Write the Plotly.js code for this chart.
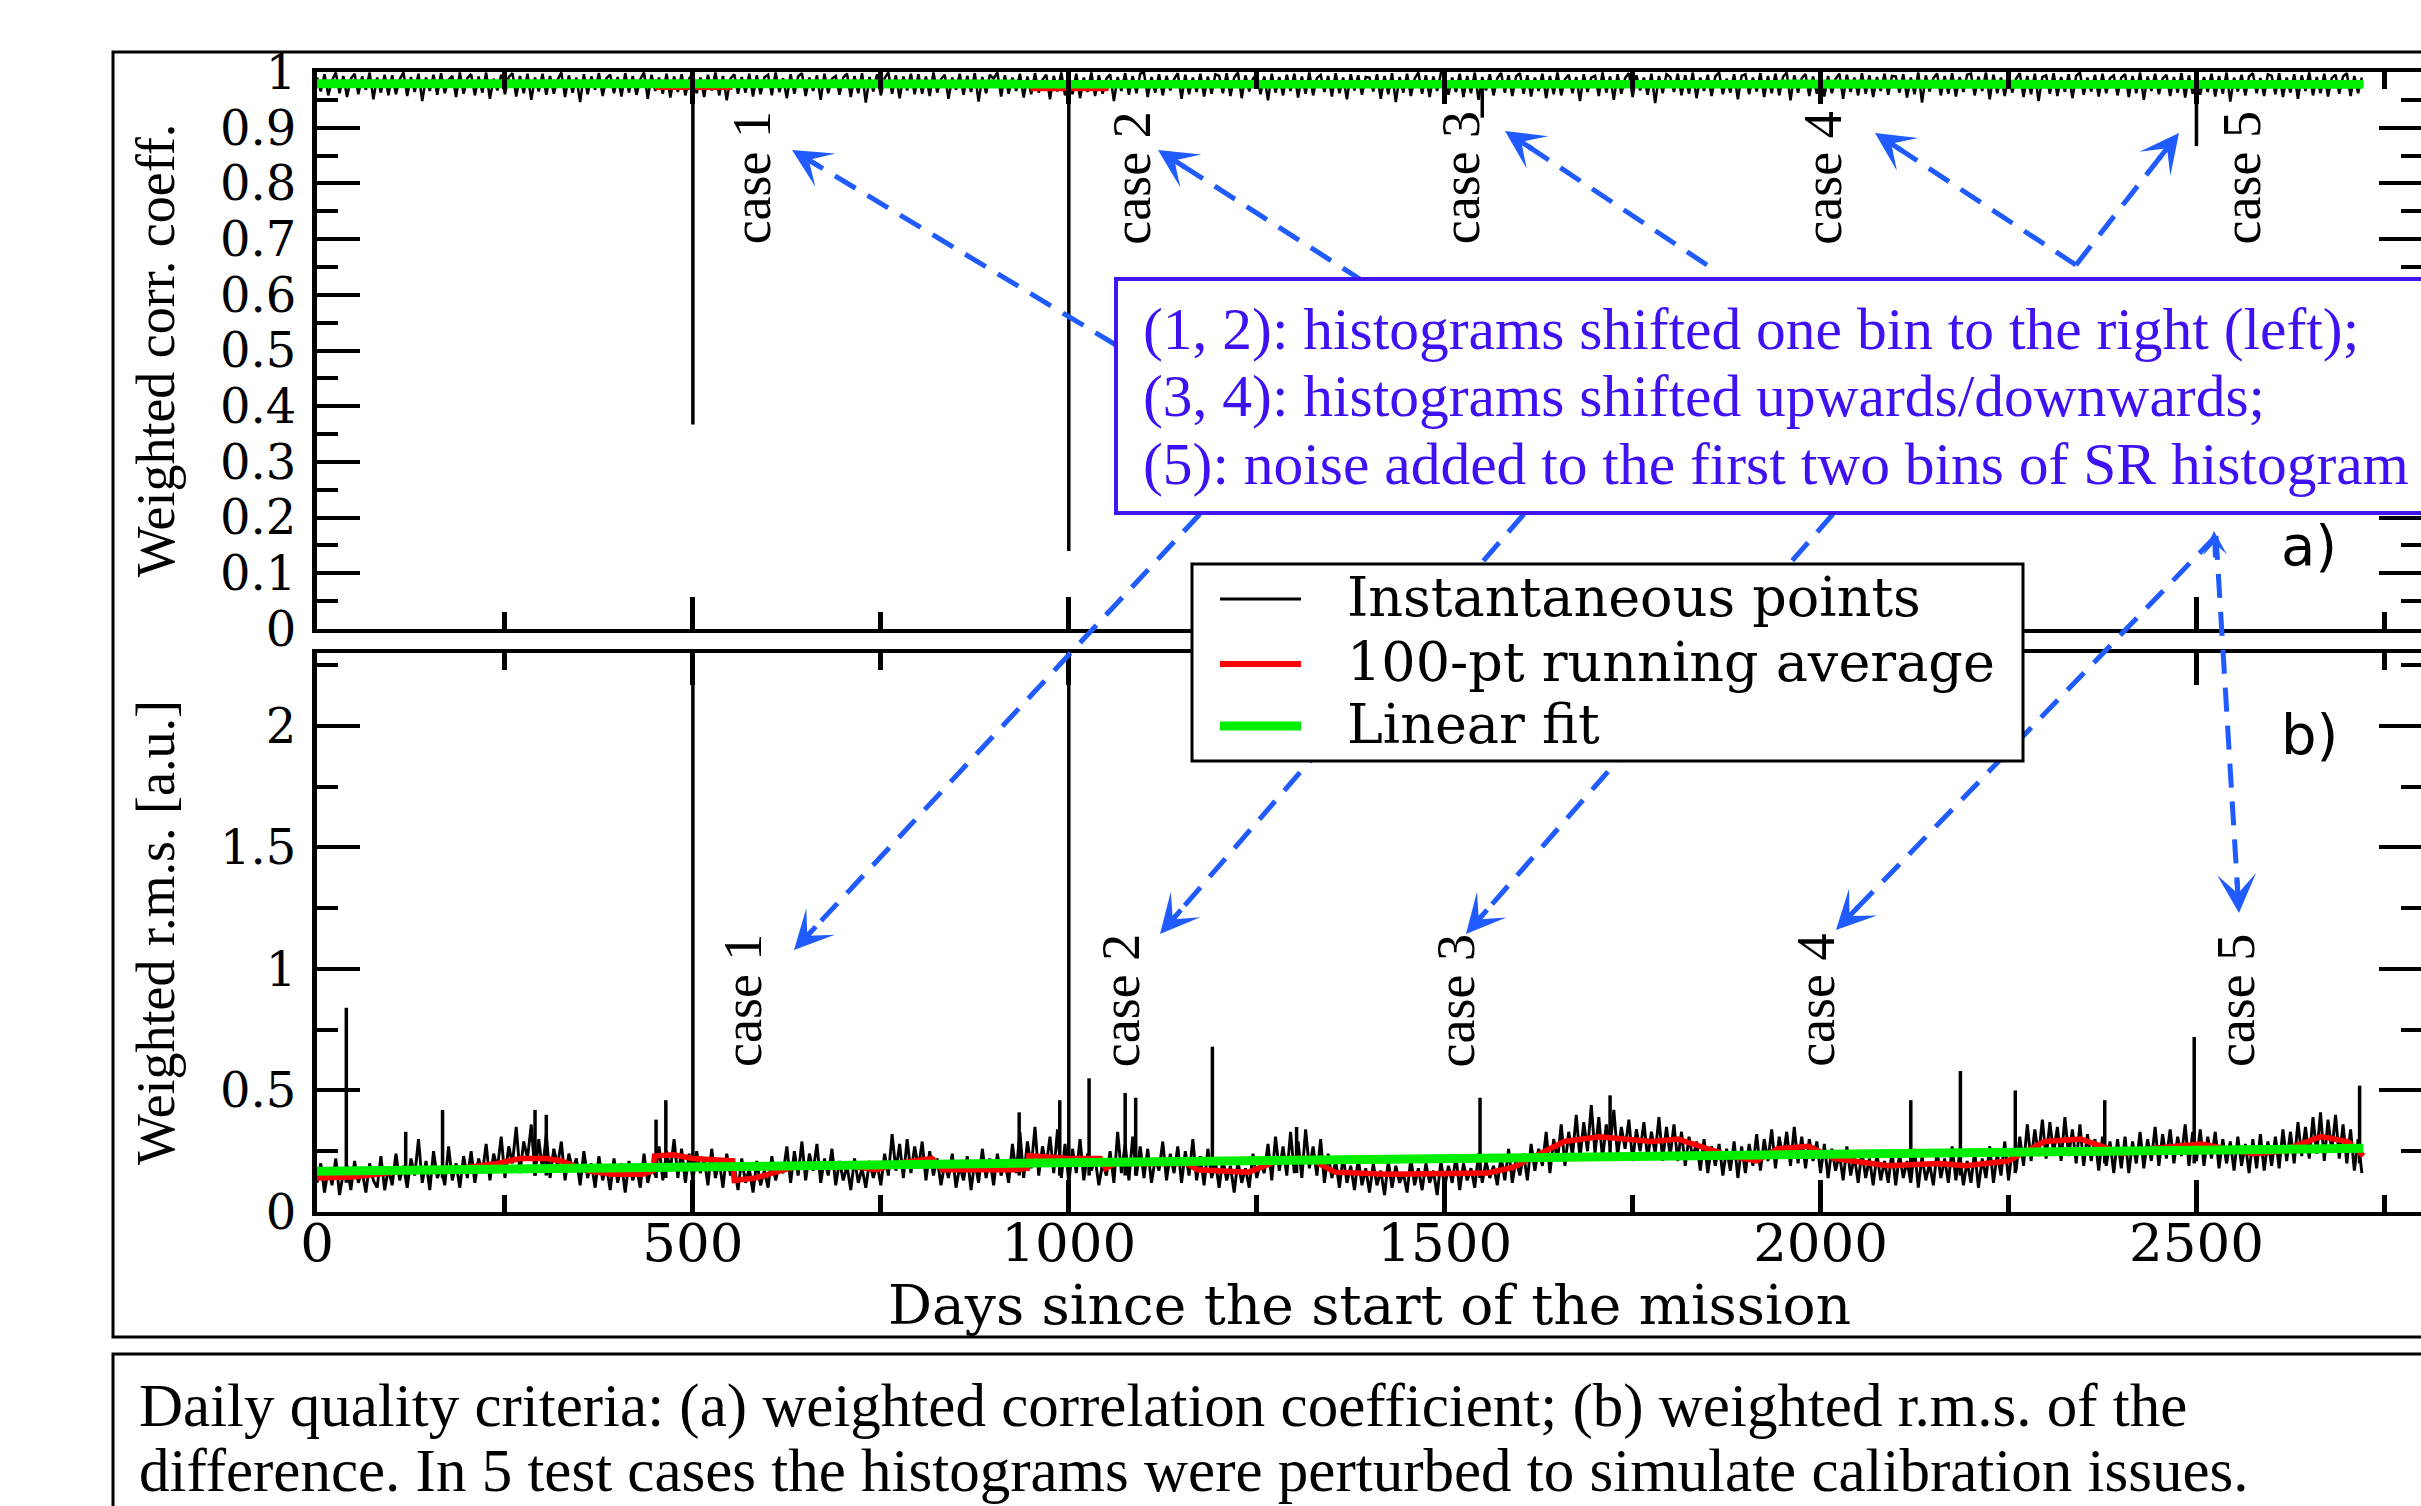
<!DOCTYPE html>
<html><head><meta charset="utf-8">
<script src="https://cdn.plot.ly/plotly-3.0.1.min.js"></script>
<style>html,body{margin:0;padding:0;overflow:hidden;background:#fff;} #chart{width:2440px;height:1506px;}</style>
</head><body><div id="chart"></div>
<script>
// ---------------- DATA ----------------
const dayStep = 5; // daily series shown as 5-day samples, starting at day 0

const corrVals = [
0.99,0.965,0.996,0.958,0.985,0.999,0.962,0.993,0.955,0.988,0.997,0.96,0.992,0.968,0.999,0.951,0.99,0.963,0.995,0.958,
0.994,0.96,0.987,0.999,0.957,0.991,0.964,0.997,0.948,0.99,0.966,0.995,0.959,0.998,0.962,0.986,0.993,0.955,0.999,0.961,
0.989,0.996,0.958,0.992,0.963,0.999,0.952,0.988,0.967,0.995,0.96,0.991,0.998,0.956,0.993,0.962,0.997,0.95,0.99,0.965,
0.997,0.959,0.993,0.961,0.986,0.999,0.955,0.994,0.963,0.99,0.946,0.996,0.96,0.992,0.968,0.998,0.957,0.989,0.995,0.962,
0.991,0.956,0.998,0.963,0.993,0.959,0.987,0.999,0.952,0.995,0.966,0.99,0.961,0.997,0.954,0.992,0.964,0.996,0.958,0.988,
0.998,0.962,0.99,0.955,0.995,0.967,0.999,0.958,0.993,0.949,0.988,0.996,0.961,0.991,0.963,0.997,0.956,0.994,0.96,0.99,
0.995,0.958,0.999,0.964,0.989,0.953,0.996,0.961,0.992,0.998,0.957,0.99,0.966,0.994,0.95,0.997,0.962,0.988,0.993,0.959,
0.99,0.997,0.955,0.993,0.962,0.998,0.945,0.991,0.965,0.996,0.958,0.989,0.999,0.961,0.994,0.953,0.992,0.967,0.997,0.96,
0.996,0.961,0.992,0.957,0.999,0.963,0.987,0.995,0.952,0.99,0.968,0.997,0.959,0.993,0.964,0.998,0.947,0.991,0.962,0.995,
0.988,0.999,0.956,0.994,0.961,0.99,0.966,0.997,0.954,0.992,0.96,0.998,0.963,0.986,0.995,0.951,0.993,0.965,0.999,0.958,
0.992,0.96,0.997,0.953,0.99,0.964,0.999,0.957,0.994,0.961,0.988,0.996,0.948,0.991,0.966,0.998,0.959,0.993,0.962,0.997,
0.999,0.955,0.991,0.963,0.996,0.958,0.993,0.967,0.987,0.998,0.952,0.995,0.96,0.99,0.964,0.997,0.956,0.992,0.961,0.996,
0.993,0.962,0.998,0.957,0.99,0.999,0.953,0.994,0.965,0.988,0.996,0.96,0.992,0.949,0.997,0.963,0.991,0.958,0.995,0.966,
0.997,0.954,0.992,0.961,0.999,0.958,0.989,0.995,0.964,0.993,0.956,0.998,0.962,0.99,0.951,0.996,0.967,0.994,0.959,0.991,
0.99,0.965,0.996,0.952,0.993,0.96,0.998,0.946,0.991,0.963,0.997,0.957,0.988,0.999,0.961,0.994,0.955,0.992,0.966,0.998,
0.995,0.959,0.99,0.964,0.997,0.955,0.993,0.962,0.999,0.95,0.991,0.967,0.996,0.958,0.989,0.998,0.963,0.994,0.957,0.992,
0.998,0.961,0.994,0.956,0.99,0.966,0.997,0.953,0.993,0.96,0.999,0.958,0.987,0.995,0.962,0.991,0.948,0.996,0.964,0.99,
0.993,0.957,0.999,0.963,0.992,0.95,0.996,0.961,0.989,0.998,0.955,0.994,0.967,0.99,0.959,0.997,0.944,0.993,0.962,0.996,
0.991,0.964,0.997,0.958,0.994,0.961,0.999,0.953,0.99,0.966,0.995,0.957,0.992,0.999,0.96,0.988,0.963,0.996,0.951,0.993,
0.996,0.96,0.99,0.965,0.998,0.955,0.993,0.962,0.997,0.958,0.991,0.999,0.949,0.994,0.963,0.989,0.996,0.957,0.992,0.961,
0.999,0.956,0.993,0.962,0.988,0.997,0.952,0.995,0.964,0.99,0.958,0.998,0.961,0.994,0.955,0.991,0.966,0.997,0.959,0.993,
0.992,0.963,0.996,0.954,0.99,0.96,0.999,0.945,0.994,0.965,0.989,0.997,0.958,0.993,0.961,0.998,0.956,0.991,0.964,0.995,
0.997,0.958,0.992,0.966,0.999,0.951,0.995,0.962,0.99,0.957,0.996,0.963,0.988,0.998,0.955,0.993,0.96,0.997,0.948,0.991,
0.994,0.961,0.998,0.957,0.991,0.964,0.996,0.953,0.993,0.999,0.959,0.99,0.965,0.995,0.956,0.997,0.962,0.989,0.994,0.958,
0.99,0.996,0.955,0.993,0.962,0.999,0.95,0.992,0.966,0.997,0.96,0.988,0.995,0.957,0.991,0.963,0.998,0.954,0.994,0.961,
0.996,0.959,0.991,0.964,0.997,0.956,0.993,0.961,0.999,0.947,0.99,0.965,0.995,0.958,0.992,0.998,0.962,0.989,0.957,0.996,
0.993,0.96,0.998,0.955,0.99,0.963,0.996,0.952,0.994,0.966,0.999,0.958,0.991,0.962,0.997,0.956,0.989,0.995,0.961,0.992,
0.998,0.957,0.993,0.962,0.99
];

const rmsVals = [
0.12,0.20,0.08,0.18,0.11,0.22,0.07,0.16,0.19,0.09,0.21,0.12,0.17,0.08,0.20,0.13,0.10,0.23,0.09,0.18,
0.11,0.24,0.13,0.19,0.10,0.22,0.15,0.30,0.12,0.21,0.09,0.25,0.14,0.18,0.11,0.27,0.13,0.20,0.10,0.23,
0.14,0.25,0.12,0.22,0.16,0.28,0.13,0.24,0.18,0.31,0.14,0.27,0.20,0.35,0.16,0.29,0.22,0.36,0.15,0.30,
0.17,0.32,0.14,0.26,0.19,0.29,0.13,0.24,0.17,0.22,0.11,0.25,0.14,0.20,0.10,0.23,0.13,0.19,0.09,0.22,
0.12,0.20,0.08,0.21,0.13,0.18,0.10,0.24,0.12,0.19,0.15,0.27,0.13,0.25,0.17,0.30,0.14,0.26,0.12,0.24,
0.13,0.25,0.16,0.22,0.11,0.26,0.14,0.21,0.10,0.24,0.15,0.19,0.09,0.22,0.12,0.18,0.08,0.21,0.11,0.17,
0.10,0.23,0.13,0.20,0.16,0.27,0.12,0.25,0.15,0.29,0.13,0.24,0.17,0.28,0.12,0.22,0.15,0.26,0.11,0.21,
0.13,0.19,0.09,0.22,0.12,0.18,0.10,0.21,0.14,0.20,0.11,0.24,0.15,0.32,0.17,0.28,0.14,0.30,0.16,0.27,
0.18,0.29,0.13,0.25,0.15,0.22,0.11,0.20,0.14,0.24,0.10,0.19,0.13,0.23,0.09,0.21,0.12,0.26,0.14,0.22,
0.11,0.24,0.15,0.21,0.12,0.28,0.16,0.33,0.14,0.29,0.18,0.35,0.15,0.27,0.19,0.31,0.16,0.34,0.14,0.28,
0.12,0.26,0.16,0.30,0.13,0.24,0.17,0.22,0.11,0.20,0.15,0.25,0.12,0.33,0.16,0.28,0.13,0.31,0.15,0.27,
0.14,0.26,0.12,0.22,0.17,0.29,0.13,0.24,0.16,0.27,0.12,0.25,0.15,0.30,0.13,0.23,0.11,0.26,0.14,0.21,
0.10,0.22,0.13,0.19,0.08,0.21,0.12,0.18,0.10,0.24,0.14,0.20,0.16,0.28,0.13,0.31,0.17,0.27,0.15,0.33,
0.16,0.29,0.14,0.34,0.18,0.27,0.15,0.30,0.12,0.24,0.14,0.21,0.10,0.23,0.12,0.19,0.09,0.22,0.11,0.18,
0.08,0.20,0.11,0.17,0.07,0.21,0.10,0.19,0.12,0.16,0.08,0.22,0.11,0.18,0.09,0.20,0.12,0.17,0.07,0.21,
0.10,0.19,0.12,0.23,0.09,0.20,0.13,0.18,0.10,0.24,0.12,0.21,0.14,0.19,0.11,0.23,0.13,0.26,0.12,0.22,
0.15,0.24,0.13,0.28,0.17,0.26,0.19,0.33,0.16,0.30,0.21,0.36,0.19,0.33,0.23,0.40,0.22,0.37,0.25,0.44,
0.24,0.39,0.22,0.36,0.27,0.42,0.23,0.35,0.26,0.38,0.21,0.34,0.25,0.37,0.22,0.33,0.24,0.39,0.21,0.35,
0.23,0.36,0.21,0.33,0.19,0.31,0.22,0.29,0.17,0.30,0.16,0.27,0.19,0.28,0.15,0.26,0.17,0.29,0.14,0.27,
0.16,0.28,0.19,0.32,0.17,0.30,0.21,0.34,0.18,0.31,0.22,0.33,0.19,0.35,0.20,0.31,0.18,0.30,0.21,0.29,
0.16,0.28,0.14,0.26,0.17,0.24,0.13,0.27,0.15,0.23,0.12,0.25,0.14,0.22,0.11,0.24,0.13,0.21,0.12,0.25,
0.11,0.24,0.14,0.21,0.12,0.26,0.10,0.23,0.13,0.20,0.11,0.25,0.14,0.22,0.12,0.27,0.13,0.24,0.11,0.21,
0.12,0.25,0.10,0.22,0.14,0.27,0.12,0.24,0.15,0.29,0.13,0.26,0.17,0.31,0.19,0.36,0.21,0.34,0.23,0.38,
0.22,0.37,0.24,0.35,0.21,0.39,0.23,0.34,0.20,0.36,0.19,0.32,0.21,0.30,0.17,0.31,0.19,0.29,0.16,0.30,
0.18,0.31,0.16,0.29,0.20,0.33,0.18,0.30,0.21,0.35,0.19,0.32,0.22,0.34,0.20,0.31,0.23,0.36,0.19,0.33,
0.21,0.34,0.19,0.31,0.22,0.33,0.18,0.30,0.20,0.29,0.17,0.31,0.19,0.28,0.16,0.30,0.18,0.32,0.17,0.29,
0.19,0.31,0.18,0.34,0.21,0.33,0.20,0.37,0.23,0.35,0.22,0.39,0.24,0.41,0.21,0.38,0.25,0.40,0.22,0.36,
0.20,0.34,0.17,0.30,0.16
];

// isolated spikes (day, bottom, top)
const corrSpikeDays = [500, 1000, 1550, 2500];
const corrSpikeLow  = [0.367, 0.14, 0.918, 0.867];
const corrSpikeHigh = [0.985, 0.985, 0.985, 0.985];

const rmsSpikeDays = [39, 118, 167, 290, 305, 451, 464, 500, 934, 988, 1000, 1027, 1075, 1089, 1191, 1303, 1547, 1720, 2120, 2186, 2259, 2378, 2497, 2717];
const rmsSpikeLow  = [0.12, 0.14, 0.14, 0.15, 0.15, 0.14, 0.14, 0.10, 0.15, 0.15, 0.10, 0.15, 0.15, 0.15, 0.15, 0.16, 0.14, 0.22, 0.15, 0.15, 0.16, 0.20, 0.20, 0.20];
const rmsSpikeHigh = [0.84, 0.33, 0.42, 0.42, 0.40, 0.38, 0.46, 2.40, 0.41, 0.46, 2.40, 0.55, 0.49, 0.47, 0.68, 0.35, 0.47, 0.48, 0.46, 0.58, 0.50, 0.46, 0.72, 0.52];

// 100-pt running averages
const corrAvgDays = [0, 450, 452, 550, 552, 950, 952, 1050, 1052, 2722];
const corrAvgVals = [0.979, 0.979, 0.972, 0.972, 0.979, 0.979, 0.970, 0.970, 0.979, 0.979];

const rmsAvgDays = [0, 50, 120, 190, 240, 270, 305, 325, 358, 392, 433, 447, 449, 474, 500, 553, 555, 583, 617, 642,
  683, 744, 778, 818, 832, 927, 945, 947, 1000, 1042, 1049, 1062, 1157, 1171, 1239, 1286, 1320, 1354, 1422, 1490,
  1557, 1591, 1625, 1659, 1706, 1776, 1810, 1880, 1915, 1943, 1984, 2019, 2089, 2158, 2193, 2249, 2298, 2346, 2402, 2437,
  2506, 2576, 2611, 2666, 2701, 2722];
const rmsAvgVals = [0.14, 0.145, 0.17, 0.18, 0.20, 0.22, 0.22, 0.21, 0.17, 0.155, 0.155, 0.17, 0.23, 0.235, 0.22, 0.21, 0.13, 0.14, 0.17, 0.19,
  0.20, 0.174, 0.203, 0.22, 0.174, 0.174, 0.18, 0.232, 0.22, 0.22, 0.18, 0.20, 0.20, 0.174, 0.164, 0.22, 0.22, 0.164, 0.155, 0.155,
  0.16, 0.184, 0.24, 0.29, 0.31, 0.29, 0.30, 0.23, 0.21, 0.26, 0.27, 0.22, 0.19, 0.20, 0.19, 0.21, 0.29, 0.30, 0.24, 0.26,
  0.28, 0.24, 0.25, 0.31, 0.29, 0.23];

// linear fits
const corrFitDays = [0, 2722];
const corrFitVals = [0.979, 0.978];
const rmsFitDays = [0, 2722];
const rmsFitVals = [0.168, 0.262];

// labels
const seriesNames = ['Instantaneous points', '100-pt running average', 'Linear fit'];
const caseNames = ['case 1', 'case 2', 'case 3', 'case 4', 'case 5'];
const caseDaysA = [578, 1084, 1521, 2003, 2560];
const caseDaysB = [566, 1069, 1515, 1993, 2552];
const boxLines = [
  '(1, 2): histograms shifted one bin to the right (left);',
  '(3, 4): histograms shifted upwards/downwards;',
  '(5): noise added to the first two bins of SR histogram'
];
const captionLines = [
  'Daily quality criteria: (a) weighted correlation coefficient; (b) weighted r.m.s. of the',
  'difference. In 5 test cases the histograms were perturbed to simulate calibration issues.'
];

// ---------------- BUILD ----------------
const colBlack = 'black', colRed = '#ff0000', colGreen = '#00ee00';
const days = corrVals.map((v, i) => i * dayStep);
const rmsDays = rmsVals.map((v, i) => i * dayStep);
function spikes(d, lo, hi) {
  const x = [], y = [];
  d.forEach((v, i) => { x.push(v, v, null); y.push(lo[i], hi[i], null); });
  return {x, y};
}
const cs = spikes(corrSpikeDays, corrSpikeLow, corrSpikeHigh);
const rs = spikes(rmsSpikeDays, rmsSpikeLow, rmsSpikeHigh);

const traces = [
  {x: days, y: corrVals, xaxis: 'x2', yaxis: 'y2', mode: 'lines', line: {color: colBlack, width: 2.5}, name: seriesNames[0]},
  {x: cs.x, y: cs.y, xaxis: 'x2', yaxis: 'y2', mode: 'lines', line: {color: colBlack, width: 3.5}, name: seriesNames[0]},
  {x: corrAvgDays, y: corrAvgVals, xaxis: 'x2', yaxis: 'y2', mode: 'lines', line: {color: colRed, width: 5}, name: seriesNames[1]},
  {x: corrFitDays, y: corrFitVals, xaxis: 'x2', yaxis: 'y2', mode: 'lines', line: {color: colGreen, width: 9}, name: seriesNames[2]},
  {x: rmsDays, y: rmsVals, xaxis: 'x', yaxis: 'y', mode: 'lines', line: {color: colBlack, width: 2.9}, name: seriesNames[0]},
  {x: rs.x, y: rs.y, xaxis: 'x', yaxis: 'y', mode: 'lines', line: {color: colBlack, width: 3.5}, name: seriesNames[0]},
  {x: rmsAvgDays, y: rmsAvgVals, xaxis: 'x', yaxis: 'y', mode: 'lines', line: {color: colRed, width: 5.5}, name: seriesNames[1]},
  {x: rmsFitDays, y: rmsFitVals, xaxis: 'x', yaxis: 'y', mode: 'lines', line: {color: colGreen, width: 9}, name: seriesNames[2]}
];
traces.forEach(t => { t.showlegend = false; });

// pixel -> paper helpers (plot area 317..2422 x 72..1212)
const PL = 317, PR = 2422, PT = 72, PB = 1212;
const px = v => (v - PL) / (PR - PL);
const py = v => (PB - v) / (PB - PT);

const serif = 'Liberation Serif, Times New Roman, serif';
const wide = 'DejaVu Serif, serif';
const blueText = '#3f10f2';
const blueArrow = '#1f5bff';

const xCommon = {
  range: [0, 2800], tick0: 0, dtick: 500, ticks: 'inside', ticklen: 32, tickwidth: 5, tickcolor: 'black',
  minor: {dtick: 250, ticks: 'inside', ticklen: 17, tickwidth: 5, tickcolor: 'black'},
  showline: true, linewidth: 4, linecolor: 'black', mirror: 'allticks', showgrid: false, zeroline: false,
  tickfont: {family: wide, size: 53, color: 'black'}
};
const yCommon = {
  ticks: 'inside', ticklen: 43, tickwidth: 4, tickcolor: 'black',
  showline: true, linewidth: 5, linecolor: 'black', mirror: 'allticks', showgrid: false, zeroline: false,
  tickfont: {family: wide, size: 48, color: 'black'}, ticklabelstandoff: 6
};

const annotations = [];
caseNames.forEach((t, i) => {
  annotations.push({text: t, x: caseDaysA[i], y: 0.81, xref: 'x2', yref: 'y2', showarrow: false, textangle: -90,
    xanchor: 'center', yanchor: 'middle', font: {family: serif, size: 54, color: 'black'}});
  annotations.push({text: t, x: caseDaysB[i], y: 0.87, xref: 'x', yref: 'y', showarrow: false, textangle: -90,
    xanchor: 'center', yanchor: 'middle', font: {family: serif, size: 54, color: 'black'}});
});
annotations.push({text: 'a)', x: px(2309), y: py(545), xref: 'paper', yref: 'paper', showarrow: false,
  xanchor: 'center', yanchor: 'middle', font: {family: 'DejaVu Sans, sans-serif', size: 56, color: 'black'}});
annotations.push({text: 'b)', x: px(2309), y: py(734), xref: 'paper', yref: 'paper', showarrow: false,
  xanchor: 'center', yanchor: 'middle', font: {family: 'DejaVu Sans, sans-serif', size: 56, color: 'black'}});
const boxCenters = [329, 396, 464];
boxLines.forEach((t, i) => annotations.push({text: t, x: px(1141), y: py(boxCenters[i]), xref: 'paper', yref: 'paper',
  xanchor: 'left', yanchor: 'middle', showarrow: false, font: {family: serif, size: 59.5, color: blueText}}));
const capCenters = [1406, 1470];
captionLines.forEach((t, i) => annotations.push({text: t, x: px(137), y: py(capCenters[i]), xref: 'paper', yref: 'paper',
  xanchor: 'left', yanchor: 'middle', showarrow: false, font: {family: serif, size: 61, color: 'black'}}));

// arrows: [tailX, tailY, tipX, tipY] in page pixels
const arrows = [
  [1116, 345, 792, 150], [1363, 281, 1158, 150], [1707, 265, 1505, 131], [2076, 265, 1875, 133], [2076, 265, 2179, 133],
  [1200, 514, 794, 950], [1524, 514, 1160, 934], [1833, 514, 1466, 934], [2216, 536, 1836, 930], [2216, 536, 2239, 913]
];
const shapes = [];
// figure frame and caption frame
shapes.push({type: 'rect', xref: 'paper', yref: 'paper', x0: px(113), x1: px(2470), y0: py(1337), y1: py(52),
  line: {color: 'black', width: 3}, layer: 'below'});
shapes.push({type: 'rect', xref: 'paper', yref: 'paper', x0: px(113), x1: px(2470), y0: py(1540), y1: py(1354),
  line: {color: 'black', width: 3}, layer: 'below'});
arrows.forEach(a => {
  const dx = a[2] - a[0], dy = a[3] - a[1], len = Math.hypot(dx, dy);
  const ex = a[2] - dx / len * 22, ey = a[3] - dy / len * 22;
  shapes.push({type: 'line', xref: 'paper', yref: 'paper', x0: px(a[0]), y0: py(a[1]), x1: px(ex), y1: py(ey),
    line: {color: blueArrow, width: 5, dash: '24px,14px'}});
  annotations.push({text: '', x: px(a[2]), y: py(a[3]), xref: 'paper', yref: 'paper', showarrow: true,
    arrowhead: 3, arrowsize: 1.3, arrowwidth: 5, arrowcolor: blueArrow,
    ax: -dx / len * 34, ay: -dy / len * 34, standoff: 0});
});
annotations.push({text: '', x: px(2214), y: py(531), xref: 'paper', yref: 'paper', showarrow: true,
  arrowhead: 3, arrowsize: 1.0, arrowwidth: 4, arrowcolor: blueArrow, ax: 1, ay: 28, standoff: 0});
// annotation box
shapes.push({type: 'rect', xref: 'paper', yref: 'paper', x0: px(1116), x1: px(2470), y0: py(513), y1: py(279),
  line: {color: '#3f16f0', width: 4}, fillcolor: 'white'});
// legend (box, line samples, texts)
shapes.push({type: 'rect', xref: 'paper', yref: 'paper', x0: px(1192), x1: px(2023), y0: py(761), y1: py(564),
  line: {color: 'black', width: 3}, fillcolor: 'white'});
const legendRows = [599, 664, 726];
const legendStyles = [[colBlack, 3], [colRed, 6], [colGreen, 9]];
legendRows.forEach((r, i) => {
  shapes.push({type: 'line', xref: 'paper', yref: 'paper', x0: px(1220), x1: px(1301), y0: py(r), y1: py(r),
    line: {color: legendStyles[i][0], width: legendStyles[i][1]}});
  annotations.push({text: seriesNames[i], x: px(1345), y: py(r - 2), xref: 'paper', yref: 'paper', xanchor: 'left',
    yanchor: 'middle', showarrow: false, font: {family: wide, size: 54, color: 'black'}});
});

const layout = {
  width: 2440, height: 1506,
  margin: {l: PL, r: 2440 - PR, t: PT, b: 1506 - PB},
  paper_bgcolor: 'white', plot_bgcolor: 'white',
  font: {family: wide, color: 'black'},
  xaxis: Object.assign({}, xCommon, {anchor: 'y', ticklabelstandoff: -19,
    title: {text: 'Days since the start of the mission', font: {family: wide, size: 55, color: 'black'}, standoff: 0}}),
  xaxis2: Object.assign({}, xCommon, {anchor: 'y2', matches: 'x', showticklabels: false}),
  yaxis: Object.assign({}, yCommon, {domain: [0, py(653)], range: [0, 2.3], tick0: 0, dtick: 0.5,
    minor: {dtick: 0.25, ticks: 'inside', ticklen: 21, tickwidth: 4, tickcolor: 'black'},
    title: {text: 'Weighted r.m.s. [a.u.]', font: {family: serif, size: 54, color: 'black'}, standoff: 30}}),
  yaxis2: Object.assign({}, yCommon, {anchor: 'x2', domain: [py(629), 1], range: [0, 1], tick0: 0, dtick: 0.1,
    minor: {dtick: 0.05, ticks: 'inside', ticklen: 21, tickwidth: 4, tickcolor: 'black'},
    title: {text: 'Weighted corr. coeff.', font: {family: serif, size: 54, color: 'black'}, standoff: 30}}),
  showlegend: false,
  shapes: shapes,
  annotations: annotations
};

Plotly.newPlot('chart', traces, layout, {displayModeBar: false, staticPlot: true});
</script>
</body></html>
